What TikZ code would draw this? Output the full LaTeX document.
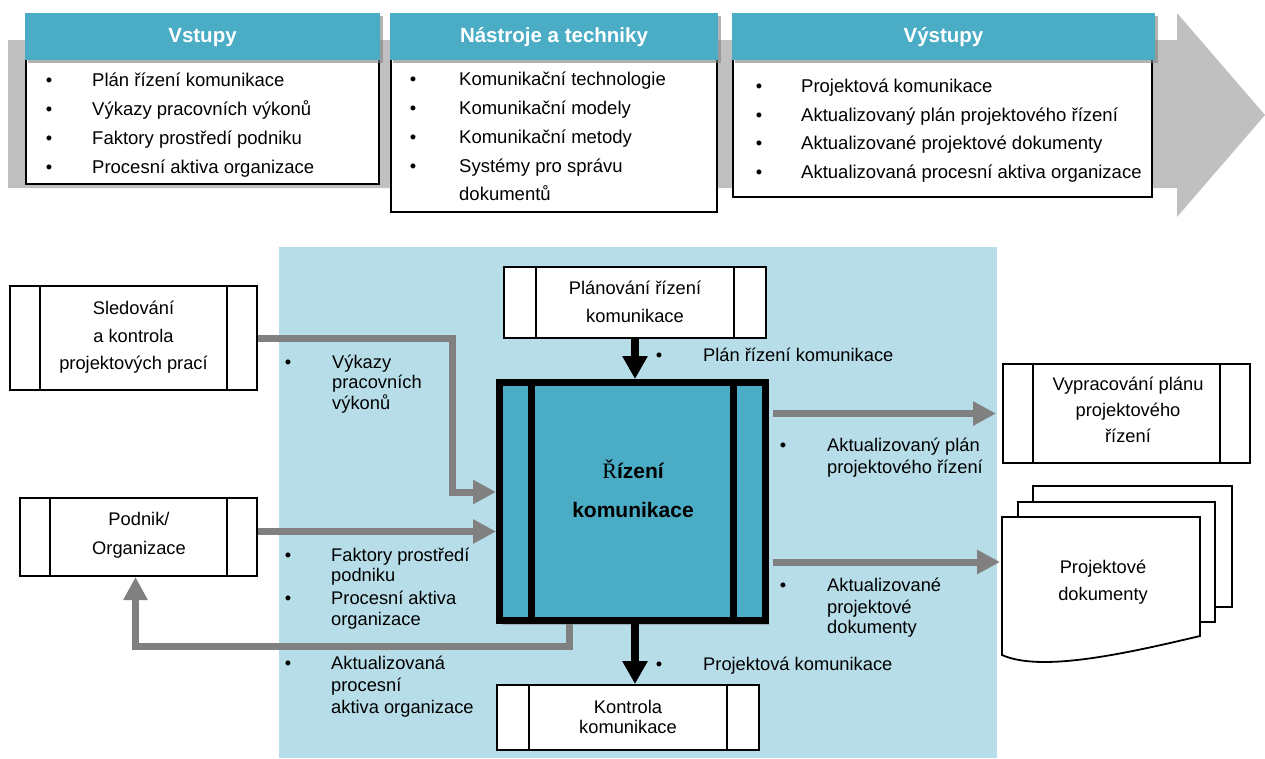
\documentclass[tikz,border=0pt]{standalone}
\usepackage{fontspec}
\setmainfont{Liberation Sans}
\newfontfamily\serifR{Liberation Serif}
\usetikzlibrary{arrows.meta,shadows}
\definecolor{teal1}{HTML}{4BACC6}
\definecolor{lblue}{HTML}{B7DDE8}
\definecolor{bigarrow}{HTML}{C0C0C0}
\definecolor{darrow}{HTML}{808080}
\begin{document}
\begin{tikzpicture}[x=1pt,y=-1pt,
 itemtxt/.style={anchor=base west, inner sep=0, font=\fontsize{18.5}{22}\selectfont},
 lbl/.style={anchor=base west, inner sep=0, font=\fontsize{18.3}{22}\selectfont},
 bul/.style={anchor=base, inner sep=0, font=\fontsize{18.3}{22}\selectfont},
 ctext/.style={anchor=base, inner sep=0, font=\fontsize{18.3}{22}\selectfont},
 hdr/.style={fill=teal1, text=white, font=\bfseries\fontsize{20.5}{24}\selectfont,
   minimum height=47pt, inner sep=0, text height=15pt, text depth=4pt,
   drop shadow={shadow xshift=3pt, shadow yshift=-3pt, fill=black!50, opacity=.6}},
 topbox/.style={draw=black, line width=1.6pt, fill=white, inner sep=0},
 proc/.style={draw=black, line width=1.8pt, fill=white, inner sep=0,
   path picture={\draw[line width=1.8pt]
     ([xshift=#1]path picture bounding box.north west) -- ([xshift=#1]path picture bounding box.south west)
     ([xshift=-#1]path picture bounding box.north east) -- ([xshift=-#1]path picture bounding box.south east);}},
 mainbox/.style={draw=black, line width=7pt, fill=teal1, inner sep=0,
   drop shadow={shadow xshift=3pt, shadow yshift=-4pt, fill=black!50, opacity=.5},
   path picture={\draw[line width=7pt]
     ([xshift=32pt]path picture bounding box.north west) -- ([xshift=32pt]path picture bounding box.south west)
     ([xshift=-32pt]path picture bounding box.north east) -- ([xshift=-32pt]path picture bounding box.south east);}},
 garrow/.style={draw=darrow, line width=7pt, -{Triangle[length=23pt,width=23pt]}},
 barrow/.style={draw=black, line width=8pt, -{Triangle[length=23pt,width=24pt]}},
 sheet/.style={fill=white, draw=black, line width=1.8pt},
]
\useasboundingbox (0,0) rectangle (1265,758);

% big process arrow
\fill[bigarrow] (8,40) -- (1177,40) -- (1177,13) -- (1265,115) -- (1177,217) -- (1177,188) -- (8,188) -- cycle;

% top boxes
\node[topbox, minimum width=353.4pt, minimum height=150.4pt] (inbox) at (202.5,109) {};
\node[hdr, minimum width=355pt] (inh) at (202.5,36.5) {Vstupy};
\node[topbox, minimum width=326.4pt, minimum height=184.4pt] (toolbox) at (554,120) {};
\node[hdr, minimum width=328pt] (toolh) at (554,36.5) {Nástroje a techniky};
\node[topbox, minimum width=419.4pt, minimum height=163.4pt] (outbox) at (942.5,115.5) {};
\node[hdr, minimum width=423pt] (outh) at (943.5,36.5) {Výstupy};

\foreach \t/\yy [count=\i] in {Plán řízení komunikace/86, Výkazy pracovních výkonů/115, Faktory prostředí podniku/144, Procesní aktiva organizace/173}{
  \node[bul] (inb\i) at (49,\yy) {\textbullet};
  \node[itemtxt] (ini\i) at (92,\yy) {\t};}
\foreach \t/\yy [count=\i] in {Komunikační technologie/85, Komunikační modely/114, Komunikační metody/143, Systémy pro správu/172}{
  \node[bul] (tob\i) at (413,\yy) {\textbullet};
  \node[itemtxt] (toi\i) at (459,\yy) {\t};}
\node[itemtxt] (toi5) at (459,200) {dokumentů};
\foreach \yy [count=\i] in {92,121,149,178}
  \node[bul] (oub\i) at (759,\yy) {\textbullet};
\node[itemtxt] (oui1) at (801,92) {Projektová komunikace};
\node[itemtxt] (oui2) at (801,121) {Aktualizovaný plán projektového řízení};
\node[itemtxt] (oui3) at (801,149) {Aktualizované projektové dokumenty};
\node[itemtxt] (oui4) at (801,178) {Aktualizovaná procesní aktiva organizace};

% light blue area
\fill[lblue] (279,247) rectangle (997,758);

% process boxes
\node[proc=30pt, minimum width=247.2pt, minimum height=104.2pt] (sled) at (133.5,338) {};
\node[proc=30pt, minimum width=237.2pt, minimum height=78.2pt] (podnik) at (138.5,537) {};
\node[proc=32pt, minimum width=262.2pt, minimum height=71.2pt] (plan) at (635,302.5) {};
\node[proc=32pt, minimum width=262.2pt, minimum height=65.2pt] (kon) at (628,717.5) {};
\node[proc=30pt, minimum width=247.2pt, minimum height=99.2pt] (vyp) at (1126.5,413.5) {};
\node[mainbox, minimum width=266pt, minimum height=238pt] (main) at (632.5,501.5) {};

% document stack
\draw[sheet] (1033,486) rectangle (1232,607);
\draw[sheet] (1018,502) rectangle (1215,622);
\draw[sheet] (1002,517) -- (1200,517) -- (1200,636) .. controls (1120,655) and (1040,672) .. (1002,655) -- cycle;
\coordinate (doc) at (1002,562);

% box texts
\foreach \t/\yy [count=\i] in {Sledování/314, a kontrola/342, projektových prací/369}
  \node[ctext] (sledt\i) at (133.5,\yy) {\t};
\node[ctext] (podt1) at (139,525) {Podnik/};
\node[ctext] (podt2) at (139,554) {Organizace};
\node[ctext] (plant1) at (635,294) {Plánování řízení};
\node[ctext] (plant2) at (635,322) {komunikace};
\node[ctext] (kont1) at (628,713) {Kontrola};
\node[ctext] (kont2) at (628,733) {komunikace};
\foreach \t/\yy [count=\i] in {Vypracování plánu/390, projektového/416, řízení/442}
  \node[ctext] (vypt\i) at (1128,\yy) {\t};
\node[ctext] (doct1) at (1103,573) {Projektové};
\node[ctext] (doct2) at (1103,600) {dokumenty};
\node[anchor=base, inner sep=0, font=\bfseries\fontsize{21}{25}\selectfont] (mt1) at (633,478) {{\serifR\mdseries\fontsize{22}{25}\selectfont Ř}ízení};
\node[anchor=base, inner sep=0, font=\bfseries\fontsize{21}{25}\selectfont] (mt2) at (633,517) {komunikace};

% connectors
\coordinate (c1) at (452,492);
\draw[garrow] (sled.east) -| (c1) -- (c1 -| main.west);
\draw[garrow] ([yshift=5.5pt]podnik.east) -- ([yshift=5.5pt]podnik.east -| main.west);
\coordinate (r1) at (569,646);
\draw[garrow] (r1 |- main.south) -- (r1) -| ([xshift=-3pt]podnik.south);
\draw[barrow] (plan.south) -- (plan.south |- main.north);
\draw[barrow] (plan.south |- main.south) -- (plan.south |- kon.north);
\draw[garrow, shorten <=4pt, shorten >=6pt] (main.east |- vyp.west) -- (vyp.west);
\draw[garrow, shorten <=4pt, shorten >=2pt] (main.east |- doc) -- (doc);

% connector labels
\foreach \xx/\yy [count=\i] in {288/368, 659/361, 783/451, 288/561, 288/604, 288/669, 783/591, 659/670}
  \node[bul] (lb\i) at (\xx,\yy) {\textbullet};
\foreach \xx/\yy/\t [count=\i] in {332/368/Výkazy, 332/388/pracovních, 332/409/výkonů,
  703/361/Plán řízení komunikace, 827/451/Aktualizovaný plán, 827/473/projektového řízení,
  331/561/Faktory prostředí, 331/581/podniku, 331/604/Procesní aktiva, 331/625/organizace,
  331/669/Aktualizovaná, 331/691/procesní, 331/713/aktiva organizace,
  827/591/Aktualizované, 827/613/projektové, 827/633/dokumenty, 703/670/Projektová komunikace}
  \node[lbl] (lt\i) at (\xx,\yy) {\t};
\end{tikzpicture}
\end{document}
